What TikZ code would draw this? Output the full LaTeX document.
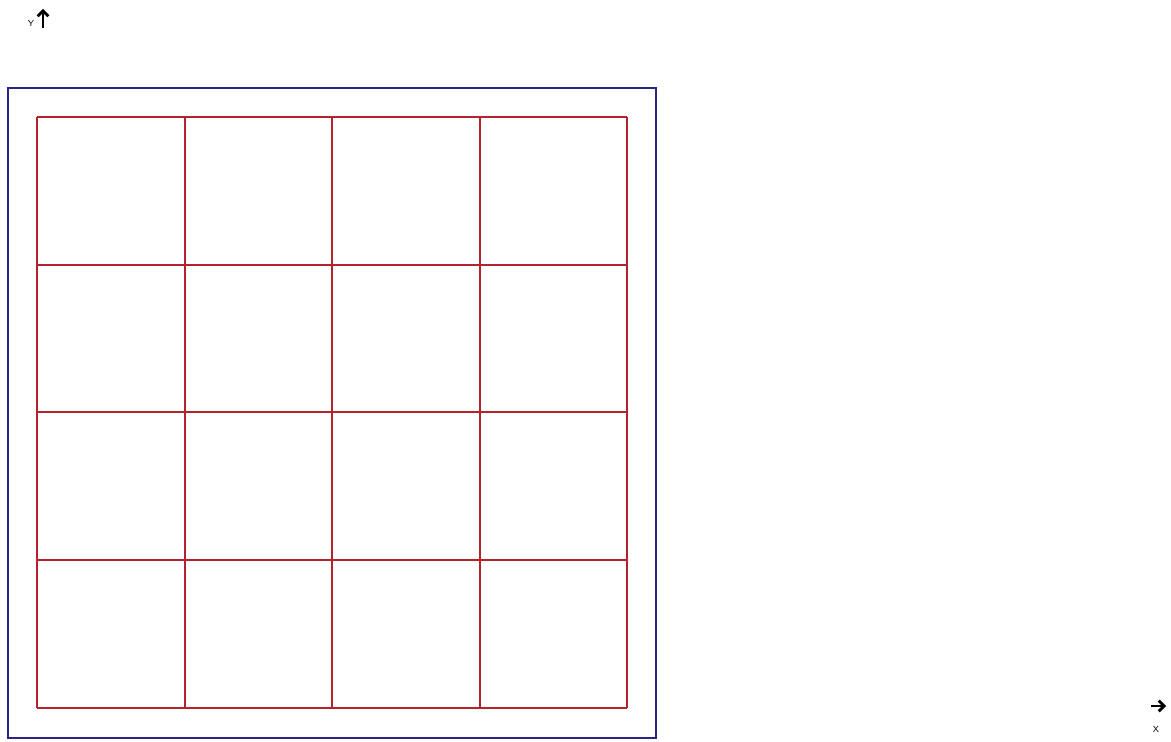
\documentclass[tikz,border=0pt]{standalone}
\usepackage{tikz}
\usetikzlibrary{arrows.meta}
\definecolor{frameblue}{RGB}{40,40,130}
\definecolor{gridred}{RGB}{180,35,45}

\begin{document}
\begin{tikzpicture}[x=0.02cm, y=-0.02cm]
            \useasboundingbox (0, 0) rectangle (1171, 742);
            \draw [frameblue, line width = 0.6pt] (8, 88) rectangle (656, 738);
            \foreach \i in {37, 185, 332, 480, 627}
                \draw [gridred, line width = 0.6pt] (\i, 117) -- (\i, 708);
            \foreach \j in {117, 265, 412, 560, 708}
                \draw [gridred, line width = 0.6pt] (37, \j) -- (627, \j);
            \node (ylab) at (31, 23) [inner sep = 0pt, font = \tiny\sffamily] {Y};
            \coordinate (ybot) at (43, 28);
            \coordinate (ytop) at (43, 9);
            \draw [-{Straight Barb[length=3pt, width=6pt]}, line width = 1.6pt] (ybot) -- (ytop);
            \coordinate (xleft) at (1151, 706);
            \coordinate (xright) at (1166, 706);
            \draw [-{Straight Barb[length=3pt, width=6pt]}, line width = 1.6pt] (xleft) -- (xright);
            \node (xlab) at (1156, 729) [inner sep = 0pt, font = \tiny\sffamily] {X};
        \end{tikzpicture}
\end{document}
